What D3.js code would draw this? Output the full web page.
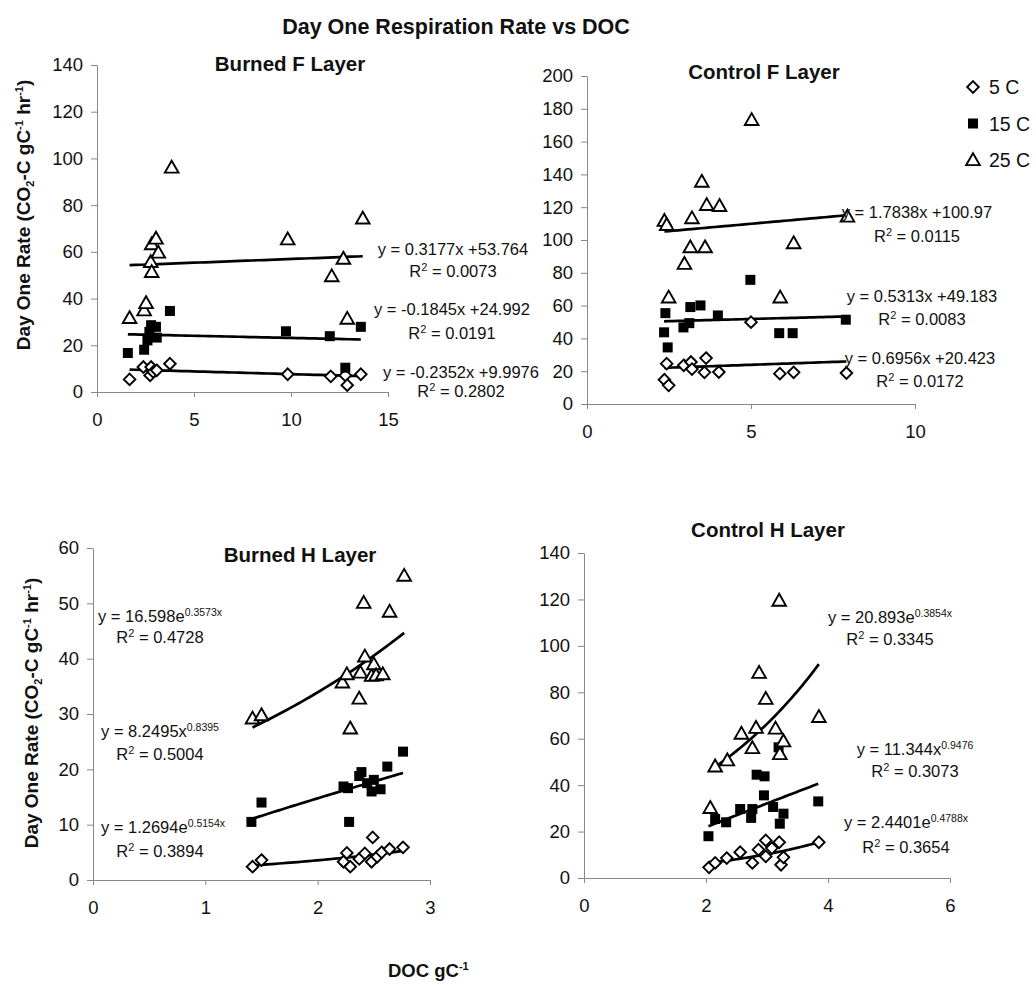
<!DOCTYPE html>
<html><head><meta charset="utf-8">
<script src="https://cdn.jsdelivr.net/npm/d3@7"></script>
<style>
body{margin:0;background:#fff;}
svg{display:block;font-family:"Liberation Sans",Arial,sans-serif;}
</style></head>
<body><svg id="c" width="1036" height="985"></svg>
<script>
// ---------- DATA ----------
const seriesNames = ["5 C","15 C","25 C"];

// Burned F Layer
const bf5  = [[1.68,5.4],[2.39,10.7],[2.74,7.1],[2.79,10.7],[2.9,8.6],[3.08,9.3],[3.76,12.1],[9.83,7.6],[12.05,6.7],[12.8,7.1],[12.9,2.9],[13.6,7.6]];
const bf15 = [[1.59,16.7],[2.43,18.1],[2.6,22.1],[2.7,25.7],[2.79,28.6],[3.04,27.9],[3.08,23.3],[3.76,34.7],[9.74,26.0],[12.0,23.9],[12.8,10.4],[13.6,27.9]];
const bf25 = [[1.68,31.7],[2.43,35.0],[2.53,38.1],[2.77,55.7],[2.82,51.4],[2.82,63.3],[3.04,65.7],[3.16,59.7],[3.85,96.1],[9.83,65.4],[12.1,49.6],[12.7,57.1],[12.9,31.4],[13.7,74.3]];

// Control F Layer
const cf5  = [[2.36,14.8],[2.43,24.6],[2.49,11.4],[2.95,23.6],[3.17,25.6],[3.2,21.3],[3.58,19.3],[3.63,28.0],[4.02,19.5],[5.0,49.9],[5.88,18.5],[6.3,19.3],[7.91,18.9]];
const cf15 = [[2.35,43.7],[2.39,55.4],[2.46,34.5],[2.94,46.7],[3.12,49.3],[3.15,59.1],[3.46,60.1],[3.99,54.0],[4.98,75.7],[5.86,43.2],[6.27,43.2],[7.89,51.4]];
const cf25 = [[2.36,111.7],[2.43,109.2],[2.49,65.0],[2.97,85.5],[3.15,95.6],[3.2,113.3],[3.5,135.6],[3.6,95.6],[3.65,121.4],[4.04,120.8],[5.02,173.2],[5.89,65.0],[6.3,98.1],[7.94,114.3]];

// Burned H Layer
const bh5  = [[1.42,2.4],[1.5,3.6],[2.23,3.3],[2.26,4.9],[2.29,2.4],[2.37,3.8],[2.42,4.8],[2.48,3.3],[2.49,7.7],[2.53,4.2],[2.57,5.0],[2.64,5.6],[2.76,5.9]];
const bh15 = [[1.41,10.5],[1.5,14.0],[2.23,16.9],[2.27,16.6],[2.28,10.5],[2.37,18.8],[2.39,19.5],[2.44,17.5],[2.48,16.0],[2.5,18.1],[2.56,16.4],[2.62,20.5],[2.76,23.2]];
const bh25 = [[1.42,29.2],[1.5,29.8],[2.22,35.7],[2.26,37.2],[2.29,27.4],[2.37,32.8],[2.38,37.5],[2.41,50.1],[2.42,40.4],[2.48,36.9],[2.5,39.0],[2.52,37.0],[2.58,37.2],[2.64,48.5],[2.77,55.0]];

// Control H Layer
const ch5  = [[2.05,4.6],[2.15,6.5],[2.34,8.6],[2.56,11.1],[2.76,6.5],[2.86,12.2],[2.98,9.3],[2.98,16.2],[3.08,12.9],[3.2,15.4],[3.23,5.7],[3.27,8.9],[3.85,15.4]];
const ch15 = [[2.04,18.0],[2.15,25.4],[2.33,24.0],[2.56,29.7],[2.74,25.9],[2.76,29.7],[2.83,44.5],[2.95,35.6],[2.96,43.8],[3.1,30.6],[3.19,56.3],[3.21,23.4],[3.27,27.7],[3.84,33.0]];
const ch25 = [[2.07,30.2],[2.15,48.1],[2.35,50.7],[2.58,62.2],[2.76,56.0],[2.82,64.7],[2.87,88.4],[2.98,77.2],[3.14,64.4],[3.2,119.5],[3.21,53.4],[3.27,58.9],[3.85,69.4]];

// Trendline types and coefficients (as printed on the chart)
const bfFits = [["lin",-0.2352,9.9976],["lin",-0.1845,24.992],["lin",0.3177,53.764]];
const cfFits = [["lin",0.6956,20.423],["lin",0.5313,49.183],["lin",1.7838,100.97]];
const bhFits = [["exp",1.2694,0.5154],["pow",8.2495,0.8395],["exp",16.598,0.3573]];
const chFits = [["exp",2.4401,0.4788],["pow",11.344,0.9476],["exp",20.893,0.3854]];

// Equation labels [main, superscript, R2]
const bfEq = [["y = -0.2352x +9.9976","","0.2802"],["y = -0.1845x +24.992","","0.0191"],["y = 0.3177x +53.764","","0.0073"]];
const cfEq = [["y = 0.6956x +20.423","","0.0172"],["y = 0.5313x +49.183","","0.0083"],["y = 1.7838x +100.97","","0.0115"]];
const bhEq = [["y = 1.2694e","0.5154x","0.3894"],["y = 8.2495x","0.8395","0.5004"],["y = 16.598e","0.3573x","0.4728"]];
const chEq = [["y = 2.4401e","0.4788x","0.3654"],["y = 11.344x","0.9476","0.3073"],["y = 20.893e","0.3854x","0.3345"]];

const panelTitles = ["Burned F Layer","Control F Layer","Burned H Layer","Control H Layer"];
const xTicks = [[0,5,10,15],[0,5,10],[0,1,2,3],[0,2,4,6]];
const yTicks = [[0,20,40,60,80,100,120,140],[0,20,40,60,80,100,120,140,160,180,200],[0,10,20,30,40,50,60],[0,20,40,60,80,100,120,140]];

// ---------- LAYOUT ----------
const svg = d3.select("#c");
const F = '"Liberation Sans",Arial,sans-serif';

const panels = [
  {title:panelTitles[0], tx:290, ty:71, xd:[0,15], xr:[97,388], yd:[0,140], yr:[392,65], xt:xTicks[0], yt:yTicks[0],
   data:[bf5,bf15,bf25], fits:bfFits, eq:bfEq, eqPos:[[461,378,461,397],[452,315,452,339],[453,255,453,277]]},
  {title:panelTitles[1], tx:764, ty:79, xd:[0,10], xr:[587,915], yd:[0,200], yr:[404,76], xt:xTicks[1], yt:yTicks[1],
   data:[cf5,cf15,cf25], fits:cfFits, eq:cfEq, eqPos:[[920,364,920,387],[922,302,922,325],[917,218,917,242]]},
  {title:panelTitles[2], tx:300, ty:562, xd:[0,3], xr:[93,430], yd:[0,60], yr:[880,548], xt:xTicks[2], yt:yTicks[2],
   data:[bh5,bh15,bh25], fits:bhFits, eq:bhEq, eqPos:[[163,833,160,857],[160,737,160,760],[160,622,160,643]]},
  {title:panelTitles[3], tx:768, ty:537, xd:[0,6], xr:[584,950], yd:[0,140], yr:[878,553], xt:xTicks[3], yt:yTicks[3],
   data:[ch5,ch15,ch25], fits:chFits, eq:chEq, eqPos:[[906,828,906,853],[915,755,915,777],[890,623,890,645]]}
];

function fitFn(f){
  if(f[0]==="lin") return x=>f[1]*x+f[2];
  if(f[0]==="exp") return x=>f[1]*Math.exp(f[2]*x);
  return x=>f[1]*Math.pow(x,f[2]);
}

function marker(g, type, x, y){
  if(type===0){ // diamond
    const s=5.8;
    g.append("path").attr("d",`M${x},${y-s}L${x+s},${y}L${x},${y+s}L${x-s},${y}Z`)
      .attr("fill","#fff").attr("stroke","#000").attr("stroke-width",1.9);
  } else if(type===1){ // square
    g.append("rect").attr("x",x-5).attr("y",y-5).attr("width",10).attr("height",10).attr("fill","#000");
  } else { // triangle
    const s=6.8;
    g.append("path").attr("d",`M${x},${y-s}L${x+s},${y+s*0.75}L${x-s},${y+s*0.75}Z`)
      .attr("fill","#fff").attr("stroke","#000").attr("stroke-width",1.9);
  }
}

panels.forEach(p=>{
  const x = d3.scaleLinear().domain(p.xd).range(p.xr);
  const y = d3.scaleLinear().domain(p.yd).range(p.yr);
  const g = svg.append("g");

  // axes
  const xa = g.append("g").attr("transform",`translate(0,${p.yr[0]})`)
    .call(d3.axisBottom(x).tickValues(p.xt).tickSize(5).tickSizeOuter(0).tickPadding(16).tickFormat(d3.format("d")));
  const ya = g.append("g").attr("transform",`translate(${p.xr[0]},0)`)
    .call(d3.axisLeft(y).tickValues(p.yt).tickSize(6).tickSizeOuter(0).tickPadding(8).tickFormat(d3.format("d")));
  [xa,ya].forEach(a=>{
    a.selectAll("path,line").attr("stroke","#888").attr("stroke-width",1);
    a.selectAll("text").attr("font-family",F).attr("font-size",18.5).attr("fill","#111");
  });

  // title
  g.append("text").attr("x",p.tx).attr("y",p.ty).attr("text-anchor","middle")
    .attr("font-family",F).attr("font-weight","bold").attr("font-size",20.5).attr("fill","#111").text(p.title);

  // trendlines
  p.data.forEach((s,i)=>{
    const ext = d3.extent(s,d=>d[0]);
    const fn = fitFn(p.fits[i]);
    const pts = d3.range(0,41).map(k=>{const xv=ext[0]+(ext[1]-ext[0])*k/40; return [xv,fn(xv)];});
    g.append("path").attr("d",d3.line().x(d=>x(d[0])).y(d=>y(d[1]))(pts))
      .attr("fill","none").attr("stroke","#000").attr("stroke-width",2.7);
  });

  // points
  p.data.forEach((s,i)=>{
    s.forEach(d=>marker(g,i,x(d[0]),y(d[1])));
  });

  // equation labels
  p.eq.forEach((e,i)=>{
    const pos = p.eqPos[i];
    const t = g.append("text").attr("x",pos[0]).attr("y",pos[1]).attr("text-anchor","middle")
      .attr("font-family",F).attr("font-size",16.5).attr("fill","#111");
    t.append("tspan").text(e[0]);
    if(e[1]) t.append("tspan").attr("dy",-6).attr("font-size",10.5).text(e[1]);
    const r = g.append("text").attr("x",pos[2]).attr("y",pos[3]).attr("text-anchor","middle")
      .attr("font-family",F).attr("font-size",16.5).attr("fill","#111");
    r.append("tspan").text("R");
    r.append("tspan").attr("dy",-6).attr("font-size",11).text("2");
    r.append("tspan").attr("dy",6).text(" = "+e[2]);
  });
});

// main title
svg.append("text").attr("x",456).attr("y",34).attr("text-anchor","middle")
  .attr("font-family",F).attr("font-weight","bold").attr("font-size",21.5).attr("fill","#111")
  .text("Day One Respiration Rate vs DOC");

// y axis labels
function yLabel(cx, cy){
  const t = svg.append("text").attr("transform",`translate(${cx},${cy}) rotate(-90)`).attr("text-anchor","middle")
    .attr("font-family",F).attr("font-weight","bold").attr("font-size",19).attr("fill","#111");
  t.append("tspan").text("Day One Rate (CO");
  t.append("tspan").attr("dy",4).attr("font-size",11).text("2");
  t.append("tspan").attr("dy",-4).text("-C gC");
  t.append("tspan").attr("dy",-7).attr("font-size",11).text("-1");
  t.append("tspan").attr("dy",7).text(" hr");
  t.append("tspan").attr("dy",-7).attr("font-size",11).text("-1");
  t.append("tspan").attr("dy",7).text(")");
}
yLabel(30,215);
yLabel(38,713);

// x axis label
const xl = svg.append("text").attr("x",388).attr("y",977)
  .attr("font-family",F).attr("font-weight","bold").attr("font-size",18.5).attr("fill","#111");
xl.append("tspan").text("DOC gC");
xl.append("tspan").attr("dy",-7).attr("font-size",11).text("-1");

// legend
const lg = svg.append("g");
seriesNames.forEach((n,i)=>{
  const cy = 87 + i*36.5;
  marker(lg,i,973,cy);
  lg.append("text").attr("x",989).attr("y",cy+7).attr("font-family",F).attr("font-size",19.5).attr("fill","#111").text(n);
});
</script></body></html>
